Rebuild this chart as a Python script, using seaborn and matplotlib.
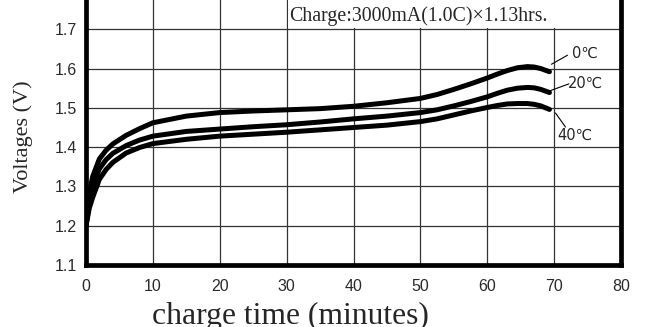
import matplotlib
matplotlib.use("Agg")
import matplotlib.pyplot as plt
from matplotlib.patches import Rectangle
import numpy as np
import pandas as pd
import seaborn as sns

# charge time in minutes
TIME = [0, 0.5, 1, 2, 3, 4, 6, 8, 10, 15, 20, 25, 30, 35, 40, 45, 50, 52.5, 55, 57.5, 60,
        61.5, 63, 64.5, 66, 67, 68, 69.3]

V_0C = [1.20, 1.285, 1.325, 1.370, 1.392, 1.408, 1.430, 1.447, 1.462, 1.479, 1.488, 1.492, 1.495,
        1.498, 1.504, 1.513, 1.524, 1.534, 1.547, 1.561, 1.576, 1.586, 1.595, 1.602, 1.605,
        1.604, 1.600, 1.592]
V_20C = [1.20, 1.262, 1.298, 1.345, 1.368, 1.384, 1.404, 1.418, 1.428, 1.440, 1.446, 1.452, 1.457,
         1.464, 1.472, 1.479, 1.488, 1.495, 1.505, 1.516, 1.528, 1.537, 1.545, 1.550, 1.552,
         1.551, 1.547, 1.539]
V_40C = [1.20, 1.245, 1.272, 1.318, 1.343, 1.361, 1.385, 1.399, 1.409, 1.420, 1.428, 1.433, 1.438,
         1.444, 1.450, 1.456, 1.465, 1.472, 1.482, 1.492, 1.501, 1.506, 1.510, 1.511, 1.511,
         1.509, 1.505, 1.496]

SERIES = ["0℃", "20℃", "40℃"]
X_TICKS = [0, 10, 20, 30, 40, 50, 60, 70, 80]
Y_TICKS = [1.1, 1.2, 1.3, 1.4, 1.5, 1.6, 1.7, 1.8]

# label text position and leader line (curve end -> label) for each series
LABEL_POS = [(72.6, 1.639), (72.1, 1.563), (70.4, 1.431)]
LEADER = [((69.6, 1.611), (72.0, 1.634)),
          ((69.3, 1.543), (72.2, 1.561)),
          ((70.2, 1.487), (71.7, 1.451))]

TITLE = "Charge:3000mA(1.0C)×1.13hrs."


def main():
    sns.set_style("white")
    plt.rcParams["font.family"] = ["Liberation Sans", "DejaVu Sans"]

    df = pd.concat([
        pd.DataFrame({"time": TIME, "volt": v, "temp": name})
        for v, name in zip([V_0C, V_20C, V_40C], SERIES)
    ])

    fig = plt.figure(figsize=(6.52, 3.27), dpi=100)
    ax = fig.add_axes([0.1319, 0.1896, 0.8206, 0.841])

    sns.lineplot(data=df, x="time", y="volt", hue="temp", palette=["black"] * 3,
                 legend=False, sort=False, lw=3.6, ax=ax, zorder=3,
                 solid_capstyle="round", solid_joinstyle="round")

    ax.set_xlim(0, 80)
    ax.set_ylim(1.1, 1.8)
    ax.set_xticks(X_TICKS)
    ax.set_yticks(Y_TICKS)
    ax.set_yticklabels([f"{v:.1f}" for v in Y_TICKS])
    ax.tick_params(axis="both", length=0, labelsize=11.5, colors="#2a2a2a")
    ax.tick_params(axis="x", pad=10)
    ax.tick_params(axis="y", pad=6.5)
    ax.set_xlabel("")
    ax.set_ylabel("")

    ax.set_axisbelow(True)
    ax.grid(True, color="#333333", lw=0.9)
    for side in ["left", "bottom", "right"]:
        ax.spines[side].set_visible(True)
        ax.spines[side].set_color("black")
        ax.spines[side].set_linewidth(3.4)
    ax.spines["top"].set_visible(False)

    # white box behind the charge condition note
    ax.add_patch(Rectangle((30.25, 1.703), 49.7, 0.1, facecolor="white",
                           edgecolor="none", zorder=1))
    ax.text(30.3, 1.722, TITLE, family="Liberation Serif", fontsize=14.3,
            va="baseline", ha="left", zorder=2)

    for name, pos, (p0, p1) in zip(SERIES, LABEL_POS, LEADER):
        ax.plot([p0[0], p1[0]], [p0[1], p1[1]], color="black", lw=0.8, zorder=3)
        ax.text(pos[0], pos[1], name, fontsize=10.5, va="center", ha="left",
                family=["DejaVu Sans"], zorder=3)

    fig.text(0.035, 0.581, "Voltages (V)", family="Liberation Serif", fontsize=16,
             rotation=90, ha="center", va="center")
    fig.text(0.446, 0.009, "charge time (minutes)", family="Liberation Serif",
             fontsize=22.8, ha="center", va="baseline")

    fig.savefig("out.png", dpi=100)


if __name__ == "__main__":
    main()
